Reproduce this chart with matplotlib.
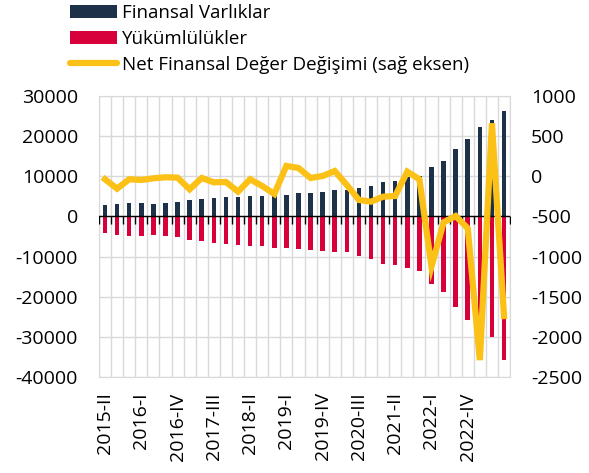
import numpy as np
import matplotlib
matplotlib.use("Agg")
import matplotlib.pyplot as plt
from matplotlib.lines import Line2D
from matplotlib.patches import Patch

plt.rcParams["font.family"] = ["Open Sans", "DejaVu Sans"]
plt.rcParams["axes.unicode_minus"] = False

# quarterly periods 2015-II .. 2023-III
quarters = [f"{y}-{q}" for y in range(2015, 2024) for q in ["I", "II", "III", "IV"]][1:35]

assets = [2800, 3150, 3400, 3400, 3100, 3300, 3500, 4000, 4250, 4650,
          4800, 4900, 5050, 5050, 5300, 5400, 5750, 5800, 6050, 6550,
          6550, 7150, 7500, 8650, 8750, 9700, 10000, 12300, 13800, 16700,
          19400, 22400, 24000, 26200]
liabilities = [-4050, -4550, -4900, -4900, -4550, -4900, -5050, -5750, -6050, -6500,
               -6750, -7050, -7250, -7300, -7900, -7800, -8050, -8250, -8500, -8800,
               -8900, -9800, -10500, -11900, -12200, -12800, -13500, -16950, -18950, -22500,
               -25800, -28000, -30150, -35850]
net_change = [-37, -154, -37, -46, -25, -12, -17, -162, -21, -75,
              -71, -191, -37, -121, -220, 129, 104, -21, 4, 66,
              -108, -295, -316, -254, -245, 58, -37, -1126, -574, -495,
              -648, -2290, 661, -1741]

NAVY = "#1d3149"
RED = "#d7003a"
YELLOW = "#fcc117"
GRID = "#d9d9d9"

x = np.arange(len(quarters))

fig = plt.figure(figsize=(5.89, 4.73), dpi=100)
ax = fig.add_axes([0.168, 0.203, 0.698, 0.594])

ax.bar(x, assets, width=0.38, color=NAVY, zorder=2)
ax.bar(x, liabilities, width=0.38, color=RED, zorder=2)

# zero line with small ticks at category boundaries
bounds = np.arange(-0.5, len(quarters) + 0.5)
ax.axhline(0, color="black", lw=1, zorder=3)
ax.plot(bounds, np.zeros_like(bounds), linestyle="none", marker=3,
        markersize=6, color="black", markeredgewidth=1, zorder=3)

ax.set_xlim(-0.5, len(quarters) - 0.5)
ax.set_ylim(-40000, 30000)
ax.set_yticks(np.arange(-40000, 30001, 10000))
ax.set_xticks(x[:31:3])
ax.set_xticklabels(quarters[:31:3], rotation=90)
ax.set_xticks(bounds, minor=True)
ax.grid(True, which="minor", axis="x", color=GRID, lw=1, zorder=0)
ax.grid(True, which="major", axis="y", color=GRID, lw=1, zorder=0)
ax.tick_params(axis="x", which="both", length=0, pad=11, labelsize=14)
ax.tick_params(axis="y", length=0, pad=15, labelsize=14)
for s in ax.spines.values():
    s.set_color(GRID)

ax2 = ax.twinx()
ax2.plot(x, net_change, color=YELLOW, lw=4.5, solid_joinstyle="miter", zorder=4)
ax2.set_ylim(-2500, 1000)
ax2.set_yticks(np.arange(-2500, 1001, 500))
ax2.tick_params(axis="y", length=0, pad=15, labelsize=14)
for s in ax2.spines.values():
    s.set_visible(False)

handles = [
    Patch(facecolor=NAVY, label="Finansal Varlıklar"),
    Patch(facecolor=RED, label="Yükümlülükler"),
    Line2D([0], [0], color=YELLOW, lw=4.5, solid_capstyle="round",
           label="Net Finansal Değer Değişimi (sağ eksen)"),
]
fig.legend(handles=handles, loc="upper left", bbox_to_anchor=(0.1, 1.015),
           frameon=False, fontsize=13.5, handlelength=2.5, handletextpad=0.25,
           labelspacing=0.42, borderaxespad=0.2)

fig.savefig("out.png", dpi=100)
